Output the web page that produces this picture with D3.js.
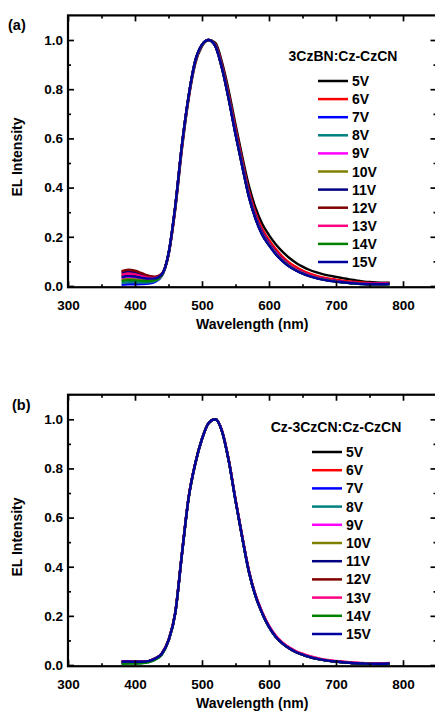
<!DOCTYPE html>
<html>
<head>
<meta charset="utf-8">
<script src="https://cdn.jsdelivr.net/npm/d3@7"></script>
<style>
  html, body { margin: 0; padding: 0; background: #fff; }
  svg { display: block; }
  text { font-family: "Liberation Sans", Arial, sans-serif; font-weight: bold; fill: #000; }
</style>
</head>
<body>
<svg id="chart" width="435" height="713"></svg>
<script>
// Wavelength grid (nm) shared by every spectrum
const wavelengths = [380,390,400,410,420,430,440,450,460,470,480,490,500,510,520,530,540,550,560,570,
                     580,590,600,610,620,630,640,650,660,670,680,690,700,710,720,730,740,750,760,770,780];

const voltages = ["5V","6V","7V","8V","9V","10V","11V","12V","13V","14V","15V"];
const lineColors = ["#000000","#ff0000","#0000ff","#008080","#ff00ff","#808000","#000080","#800000","#ff0080","#008000","#0000a0"];

const xTicks = [300,400,500,600,700,800];
const yTicks = [0.0,0.2,0.4,0.6,0.8,1.0];

// (a) 3CzBN:Cz-CzCN, normalised EL spectra
const a5V  = [0.040,0.045,0.043,0.037,0.032,0.032,0.047,0.125,0.310,0.555,0.760,0.905,0.975,1.000,0.988,0.908,0.792,0.657,0.527,0.407,0.317,0.252,0.207,0.170,0.140,0.115,0.095,0.079,0.066,0.056,0.048,0.042,0.037,0.032,0.027,0.023,0.019,0.016,0.014,0.013,0.013];
const a6V  = [0.050,0.055,0.052,0.044,0.037,0.035,0.048,0.128,0.315,0.562,0.765,0.910,0.978,1.000,0.982,0.897,0.777,0.642,0.512,0.387,0.297,0.232,0.187,0.150,0.120,0.096,0.078,0.063,0.051,0.042,0.035,0.030,0.026,0.022,0.019,0.016,0.014,0.012,0.011,0.011,0.012];
const a7V  = [0.005,0.007,0.007,0.008,0.010,0.017,0.040,0.130,0.320,0.570,0.770,0.915,0.980,1.000,0.978,0.890,0.768,0.630,0.500,0.375,0.284,0.218,0.174,0.138,0.109,0.086,0.068,0.055,0.044,0.036,0.030,0.025,0.021,0.017,0.014,0.012,0.010,0.009,0.008,0.008,0.009];
const a8V  = [0.012,0.015,0.015,0.014,0.015,0.020,0.042,0.132,0.322,0.572,0.772,0.916,0.980,1.000,0.975,0.884,0.758,0.618,0.488,0.363,0.273,0.208,0.166,0.130,0.102,0.080,0.064,0.051,0.041,0.033,0.027,0.022,0.018,0.015,0.012,0.010,0.008,0.007,0.007,0.007,0.008];
const a9V  = [0.030,0.034,0.032,0.028,0.025,0.027,0.045,0.130,0.320,0.570,0.770,0.915,0.980,1.000,0.975,0.885,0.760,0.620,0.490,0.365,0.275,0.210,0.168,0.132,0.104,0.082,0.065,0.052,0.042,0.034,0.028,0.023,0.019,0.016,0.013,0.011,0.009,0.008,0.008,0.008,0.009];
const a10V = [0.025,0.028,0.027,0.024,0.022,0.025,0.044,0.131,0.321,0.571,0.771,0.915,0.980,1.000,0.975,0.884,0.759,0.619,0.489,0.364,0.274,0.209,0.167,0.131,0.103,0.081,0.064,0.051,0.041,0.033,0.027,0.022,0.018,0.015,0.012,0.010,0.009,0.008,0.007,0.007,0.008];
const a11V = [0.055,0.060,0.057,0.048,0.040,0.036,0.049,0.130,0.320,0.570,0.770,0.915,0.980,1.000,0.975,0.885,0.760,0.620,0.490,0.365,0.275,0.210,0.168,0.132,0.104,0.082,0.065,0.052,0.042,0.034,0.028,0.023,0.019,0.016,0.013,0.011,0.009,0.008,0.008,0.008,0.009];
const a12V = [0.060,0.066,0.062,0.052,0.042,0.038,0.050,0.130,0.320,0.570,0.770,0.915,0.980,1.000,0.975,0.885,0.760,0.620,0.490,0.365,0.275,0.210,0.168,0.132,0.104,0.082,0.065,0.052,0.042,0.034,0.028,0.023,0.019,0.016,0.013,0.011,0.009,0.008,0.008,0.008,0.009];
const a13V = [0.045,0.050,0.047,0.040,0.034,0.033,0.048,0.130,0.320,0.570,0.770,0.915,0.980,1.000,0.976,0.886,0.762,0.622,0.492,0.367,0.277,0.212,0.170,0.134,0.106,0.084,0.067,0.054,0.044,0.036,0.029,0.024,0.020,0.017,0.014,0.012,0.010,0.009,0.009,0.009,0.010];
const a14V = [0.020,0.024,0.023,0.021,0.020,0.024,0.044,0.131,0.321,0.571,0.771,0.916,0.980,1.000,0.975,0.884,0.759,0.619,0.489,0.364,0.274,0.209,0.167,0.131,0.103,0.081,0.064,0.051,0.041,0.033,0.027,0.022,0.018,0.015,0.012,0.010,0.008,0.007,0.007,0.007,0.008];
const a15V = [0.035,0.040,0.038,0.033,0.030,0.031,0.047,0.132,0.323,0.573,0.772,0.916,0.981,1.000,0.974,0.883,0.757,0.617,0.487,0.362,0.272,0.207,0.165,0.129,0.101,0.079,0.063,0.050,0.040,0.032,0.026,0.021,0.018,0.015,0.012,0.010,0.008,0.007,0.007,0.007,0.008];

// (b) Cz-3CzCN:Cz-CzCN, normalised EL spectra
const b5V  = [0.010,0.011,0.011,0.011,0.014,0.024,0.044,0.098,0.208,0.448,0.678,0.819,0.919,0.985,1.000,0.951,0.832,0.672,0.522,0.382,0.282,0.211,0.156,0.116,0.089,0.069,0.054,0.042,0.033,0.026,0.021,0.017,0.014,0.011,0.009,0.007,0.006,0.005,0.005,0.005,0.006];
const b6V  = [0.012,0.013,0.012,0.012,0.015,0.026,0.046,0.101,0.212,0.452,0.682,0.821,0.920,0.985,1.000,0.952,0.833,0.673,0.523,0.383,0.283,0.212,0.157,0.117,0.090,0.070,0.055,0.044,0.034,0.027,0.022,0.018,0.015,0.012,0.010,0.008,0.007,0.006,0.006,0.006,0.007];
const b7V  = [0.012,0.013,0.012,0.012,0.015,0.025,0.045,0.100,0.210,0.450,0.680,0.820,0.920,0.985,1.000,0.950,0.830,0.670,0.520,0.380,0.280,0.210,0.155,0.115,0.088,0.068,0.053,0.042,0.033,0.026,0.021,0.017,0.014,0.011,0.009,0.007,0.006,0.005,0.005,0.005,0.006];
const b8V  = [0.006,0.007,0.007,0.008,0.012,0.022,0.043,0.099,0.209,0.449,0.679,0.820,0.920,0.985,1.000,0.950,0.830,0.670,0.520,0.380,0.280,0.210,0.155,0.115,0.088,0.068,0.053,0.042,0.033,0.026,0.021,0.017,0.014,0.011,0.009,0.007,0.006,0.005,0.004,0.004,0.005];
const b9V  = [0.012,0.013,0.012,0.012,0.015,0.025,0.045,0.100,0.210,0.450,0.680,0.820,0.920,0.985,1.000,0.951,0.831,0.672,0.522,0.383,0.283,0.213,0.158,0.118,0.090,0.070,0.055,0.044,0.035,0.028,0.022,0.018,0.015,0.012,0.010,0.008,0.007,0.006,0.006,0.006,0.007];
const b10V = [0.011,0.012,0.012,0.012,0.015,0.025,0.045,0.100,0.210,0.450,0.680,0.820,0.920,0.985,1.000,0.950,0.830,0.670,0.520,0.380,0.280,0.210,0.155,0.115,0.088,0.068,0.053,0.042,0.033,0.026,0.021,0.017,0.014,0.011,0.009,0.007,0.006,0.005,0.005,0.005,0.006];
const b11V = [0.012,0.013,0.012,0.012,0.015,0.025,0.045,0.100,0.210,0.450,0.680,0.820,0.920,0.985,1.000,0.950,0.830,0.670,0.520,0.380,0.280,0.210,0.155,0.115,0.088,0.068,0.053,0.042,0.033,0.026,0.021,0.017,0.014,0.011,0.009,0.007,0.006,0.005,0.005,0.005,0.006];
const b12V = [0.013,0.014,0.013,0.013,0.016,0.027,0.048,0.103,0.214,0.454,0.683,0.822,0.921,0.985,1.000,0.950,0.830,0.670,0.520,0.380,0.280,0.210,0.155,0.115,0.088,0.068,0.053,0.042,0.033,0.026,0.021,0.017,0.014,0.011,0.009,0.007,0.006,0.005,0.005,0.005,0.006];
const b13V = [0.012,0.013,0.012,0.012,0.015,0.025,0.045,0.100,0.210,0.450,0.680,0.820,0.920,0.985,1.000,0.953,0.834,0.675,0.525,0.385,0.285,0.215,0.160,0.120,0.092,0.072,0.057,0.046,0.037,0.030,0.024,0.020,0.017,0.014,0.011,0.009,0.008,0.007,0.007,0.007,0.008];
const b14V = [0.005,0.006,0.006,0.007,0.011,0.022,0.043,0.099,0.209,0.449,0.679,0.820,0.920,0.985,1.000,0.950,0.830,0.670,0.520,0.380,0.280,0.210,0.155,0.115,0.088,0.068,0.053,0.042,0.033,0.026,0.021,0.017,0.014,0.011,0.009,0.007,0.006,0.005,0.004,0.004,0.005];
const b15V = [0.013,0.014,0.013,0.013,0.016,0.026,0.046,0.100,0.210,0.450,0.680,0.820,0.920,0.985,1.000,0.950,0.830,0.670,0.520,0.380,0.280,0.210,0.155,0.115,0.088,0.068,0.053,0.042,0.033,0.026,0.021,0.017,0.014,0.011,0.009,0.007,0.006,0.005,0.005,0.005,0.006];

const panelASeries = [a5V,a6V,a7V,a8V,a9V,a10V,a11V,a12V,a13V,a14V,a15V];
const panelBSeries = [b5V,b6V,b7V,b8V,b9V,b10V,b11V,b12V,b13V,b14V,b15V];

const svg = d3.select("#chart");

function drawPanel(opts) {
  const { series, tag, legendTitle, yZero, unit, tagX, tagY, legendTitleX, legendTitleY,
          legX1, legX2, legY0, legStep, yTitleY } = opts;

  const x = d3.scaleLinear().domain([300, 850]).range([68, 68 + 550 * 0.67]);
  const y = d3.scaleLinear().domain([-0.005, 1.1]).range([yZero + 0.005 * unit, yZero - 1.1 * unit]);
  const [x0, x1] = x.range();
  const [yb, yt] = y.range();

  const g = svg.append("g");

  // spectra
  const line = d3.line()
    .x((d, i) => x(wavelengths[i]))
    .y(d => y(d))
    .curve(d3.curveMonotoneX);

  g.selectAll("path.spec")
    .data(series)
    .join("path")
    .attr("class", "spec")
    .attr("fill", "none")
    .attr("stroke", (d, i) => lineColors[i])
    .attr("stroke-width", 2.4)
    .attr("stroke-linejoin", "round")
    .attr("d", line);

  // axes: majors with labels, minors without; all ticks point inward
  const xMinor = [350,450,550,650,750,850];
  const yMinor = [0.1, 0.3, 0.5, 0.7, 0.9];

  const styleAxis = sel => {
    sel.select(".domain").remove();
    sel.selectAll(".tick line").attr("stroke", "#000").attr("stroke-width", 1.7);
    sel.selectAll(".tick text").style("font-size", "13.5px").style("font-weight", "bold")
      .style("font-family", "'Liberation Sans', Arial, sans-serif").attr("fill", "#000");
  };

  g.append("g").attr("transform", `translate(0,${yb})`)
    .call(d3.axisBottom(x).tickValues(xTicks).tickSize(-6).tickPadding(13).tickFormat(d3.format("d")))
    .call(styleAxis);
  g.append("g").attr("transform", `translate(0,${yb})`)
    .call(d3.axisBottom(x).tickValues(xMinor).tickSize(-3).tickFormat(""))
    .call(styleAxis);
  g.append("g").attr("transform", `translate(0,${yt})`)
    .call(d3.axisTop(x).tickValues(xTicks).tickSize(-6).tickFormat(""))
    .call(styleAxis);
  g.append("g").attr("transform", `translate(0,${yt})`)
    .call(d3.axisTop(x).tickValues(xMinor).tickSize(-3).tickFormat(""))
    .call(styleAxis);

  g.append("g").attr("transform", `translate(${x0},0)`)
    .call(d3.axisLeft(y).tickValues(yTicks).tickSize(-6).tickPadding(5).tickFormat(d3.format(".1f")))
    .call(styleAxis);
  g.append("g").attr("transform", `translate(${x0},0)`)
    .call(d3.axisLeft(y).tickValues(yMinor).tickSize(-3).tickFormat(""))
    .call(styleAxis);
  g.append("g").attr("transform", `translate(${x1},0)`)
    .call(d3.axisRight(y).tickValues(yTicks).tickSize(-6).tickFormat(""))
    .call(styleAxis);
  g.append("g").attr("transform", `translate(${x1},0)`)
    .call(d3.axisRight(y).tickValues(yMinor).tickSize(-3).tickFormat(""))
    .call(styleAxis);

  // frame
  g.append("rect")
    .attr("x", x0).attr("y", yt)
    .attr("width", x1 - x0).attr("height", yb - yt)
    .attr("fill", "none").attr("stroke", "#000").attr("stroke-width", 2.2);

  // axis titles
  g.append("text")
    .attr("x", (x0 + x1) / 2).attr("y", yb + 42)
    .attr("text-anchor", "middle")
    .style("font-size", "14px")
    .text("Wavelength (nm)");

  g.append("text")
    .attr("transform", `translate(22,${yTitleY}) rotate(-90)`)
    .attr("text-anchor", "middle")
    .style("font-size", "14px")
    .text("EL Intensity");

  // panel tag
  g.append("text")
    .attr("x", tagX).attr("y", tagY)
    .style("font-size", "14.5px")
    .text(tag);

  // legend
  g.append("text")
    .attr("x", legendTitleX).attr("y", legendTitleY)
    .attr("text-anchor", "middle")
    .style("font-size", "14px")
    .text(legendTitle);

  const leg = g.selectAll("g.leg")
    .data(voltages)
    .join("g")
    .attr("class", "leg")
    .attr("transform", (d, i) => `translate(0,${legY0 + i * legStep})`);
  leg.append("line")
    .attr("x1", legX1).attr("x2", legX2)
    .attr("stroke", (d, i) => lineColors[i])
    .attr("stroke-width", 2.5);
  leg.append("text")
    .attr("x", legX2 + 4).attr("dy", "0.36em")
    .style("font-size", "14px")
    .text(d => d);
}

drawPanel({
  series: panelASeries, tag: "(a)", legendTitle: "3CzBN:Cz-CzCN",
  yZero: 286, unit: 246, tagX: 8, tagY: 30,
  legendTitleX: 343, legendTitleY: 61,
  legX1: 318, legX2: 348, legY0: 81, legStep: 18.1, yTitleY: 157
});

drawPanel({
  series: panelBSeries, tag: "(b)", legendTitle: "Cz-3CzCN:Cz-CzCN",
  yZero: 665, unit: 245.7, tagX: 12, tagY: 410,
  legendTitleX: 336, legendTitleY: 432,
  legX1: 312, legX2: 342, legY0: 452, legStep: 18.2, yTitleY: 537
});
</script>
</body>
</html>
